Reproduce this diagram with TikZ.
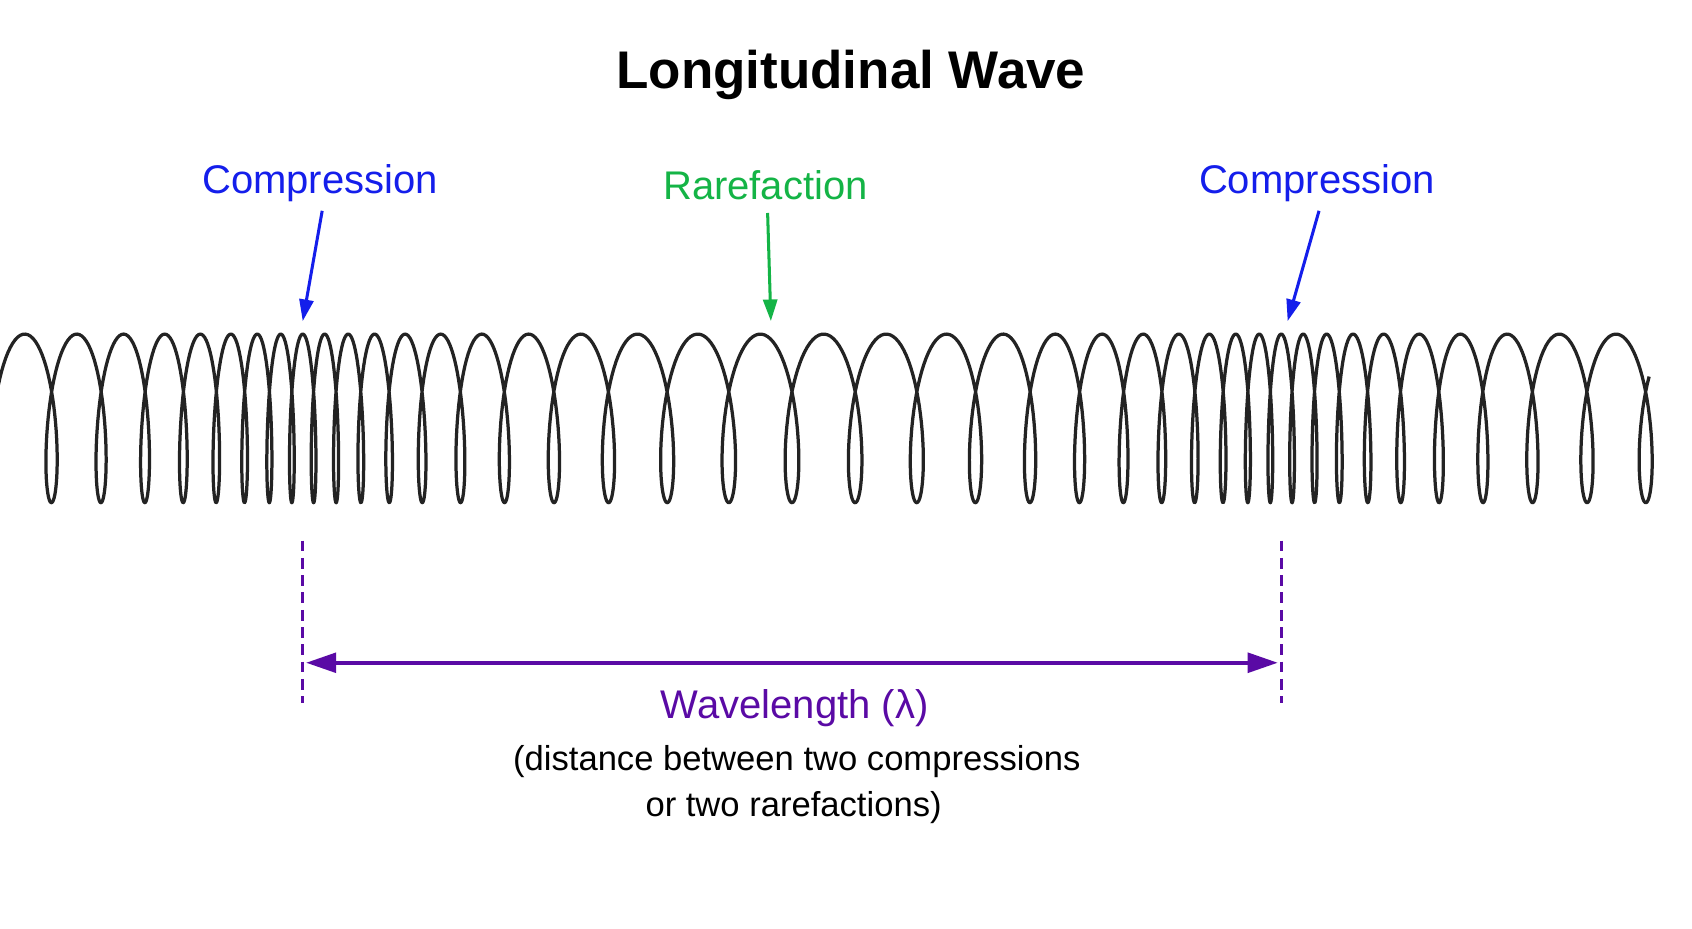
\documentclass[tikz,border=0pt]{standalone}
\usepackage{fontspec}
\setmainfont{Liberation Sans}
\usetikzlibrary{arrows.meta}
\definecolor{cblue}{RGB}{20,30,235}
\definecolor{cgreen}{RGB}{20,180,70}
\definecolor{cpurple}{RGB}{90,10,165}
\definecolor{coil}{RGB}{35,35,35}
\begin{document}
\begin{tikzpicture}[x=1pt,y=-1pt,
  lab/.style={font=\fontsize{37}{44}\selectfont},
  sub/.style={font=\fontsize{32}{38}\selectfont},
  pt/.style={-{Triangle[length=20pt,width=13pt]},line width=2.8pt}]
\useasboundingbox (0,0) rectangle (1565,859);
\fill[white] (0,0) rectangle (1565,859);
\node[font=\bfseries\fontsize{49}{58}\selectfont] (title) at (787,69) {Longitudinal Wave};
\node[lab,text=cblue] (c1) at (296,169) {Compression};
\node[lab,text=cgreen] (r1) at (708,171) {Rarefaction};
\node[lab,text=cblue] (c2) at (1218,169) {Compression};
\coordinate (c1e) at (280,297);
\coordinate (r1e) at (713,297);
\coordinate (c2e) at (1191,297);
\draw[pt,cblue] (298,195) -- (c1e);
\draw[pt,cgreen] (710,197) -- (r1e);
\draw[pt,cblue] (1220,195) -- (c2e);
% coil
\draw[coil,line width=3pt,line join=round] plot[domain=-49:1572,samples=2600,variable=\u]
 ({\u - 70.58*sin((\u-280)/905*360) + 12.5*(1-0.49*cos((\u-280)/905*360))*sin((\u-280)/39.35*360)},
  {387 - 78*cos((\u-280)/39.35*360)});
% wavelength
\coordinate (d1t) at (280,500); \coordinate (d1b) at (280,650);
\coordinate (d2t) at (1185,500); \coordinate (d2b) at (1185,650);
\draw[cpurple,line width=2.5pt,dash pattern=on 10pt off 6pt] (d1t) -- (d1b);
\draw[cpurple,line width=2.5pt,dash pattern=on 10pt off 6pt] (d2t) -- (d2b);
\coordinate (wl) at (283,613); \coordinate (wr) at (1182,613);
\draw[cpurple,line width=4pt,{Triangle[length=28pt,width=18pt]}-{Triangle[length=28pt,width=18pt]}] (wl) -- (wr);
\node[lab,text=cpurple] (wlab) at (735,655) {Wavelength (λ)};
\node[sub] (s1) at (737,704) {(distance between two compressions};
\node[sub] (s2) at (734,747) {or two rarefactions)};
\end{tikzpicture}
\end{document}
